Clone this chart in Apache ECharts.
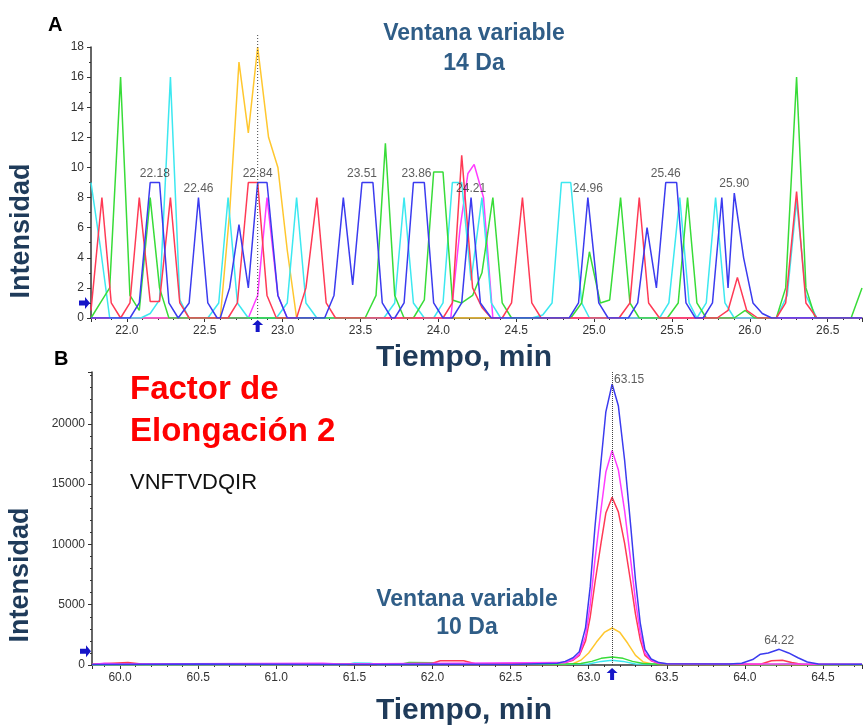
<!DOCTYPE html>
<html>
<head>
<meta charset="utf-8">
<script src="https://cdn.jsdelivr.net/npm/echarts@6/dist/echarts.min.js"></script>
<style>
  html, body { margin: 0; padding: 0; background: #fff; }
  #chart { width: 865px; height: 727px; }
</style>
</head>
<body>
<div id="chart"></div>
<script>
// ---------- Panel A: extracted ion traces, 14 Da window (time min, intensity) ----------
const aYellow = [[21.77,0],[22.60,0],[22.66,7],[22.72,17],[22.78,12.3],[22.84,18],[22.91,12],[22.97,10],[23.03,4.5],[23.09,0],[26.72,0]];
const aMagenta = [[21.77,0],[22.78,0],[22.84,1.5],[22.90,8],[22.97,1.5],[23.03,0],[24.08,0],[24.14,6],[24.19,9.6],[24.23,10.2],[24.29,8],[24.35,0],[26.72,0]];
const aCyan = [[21.77,9],[21.83,4.7],[21.89,0],
  [22.09,0],[22.15,0.3],[22.21,1.2],[22.28,16],[22.34,1.2],[22.40,0],
  [22.52,0],[22.59,1],[22.65,8],[22.71,1],[22.78,0],
  [22.96,0],[23.03,1],[23.09,8],[23.15,1],[23.22,0],
  [23.65,0],[23.72,1],[23.78,8],[23.84,1],[23.91,0],
  [23.97,0],[24.03,1],[24.09,9],[24.15,9],[24.21,2.5],[24.28,8],[24.34,1],[24.40,0],
  [24.60,0],[24.67,0.2],[24.73,1],[24.79,9],[24.85,9],[24.92,1],[24.97,0],
  [25.42,0],[25.48,1],[25.55,8],[25.61,1],[25.66,0],[25.72,1],[25.78,8],[25.84,1],[25.90,0],
  [26.17,0],[26.24,1.5],[26.30,7.8],[26.36,1.5],[26.43,0],[26.72,0]];
const aGreen = [[21.77,0],[21.83,1],[21.89,2],[21.96,16],[22.02,1.5],[22.08,0.5],[22.15,8],[22.21,2],[22.27,0],
  [23.53,0],[23.60,1.5],[23.66,11.6],[23.72,1.5],[23.78,0],
  [23.84,0],[23.91,1.2],[23.97,9.7],[24.03,9.7],[24.09,1.2],[24.15,1],[24.22,1.5],[24.28,3],[24.35,8],[24.41,1],[24.47,0],
  [24.85,0],[24.92,1],[24.97,4.4],[25.04,1],[25.10,1.2],[25.17,8],[25.23,1],[25.29,0],
  [25.47,0],[25.54,1],[25.60,8],[25.66,1],[25.72,0],
  [25.90,0],[25.97,0.5],[26.03,0],
  [26.17,0],[26.23,2],[26.30,16],[26.36,2],[26.42,0],[26.65,0],[26.72,2]];
const aRed = [[21.77,0.5],[21.84,8],[21.90,1],[21.96,0],[22.02,1],[22.08,8],[22.15,1.1],[22.21,1.1],[22.28,8],[22.34,1],[22.40,0],
  [22.65,0],[22.71,1],[22.78,9],[22.84,9],[22.90,1.5],[22.96,0],
  [23.09,0],[23.15,2],[23.22,8],[23.28,1],[23.34,0],
  [24.03,0],[24.09,1],[24.15,10.8],[24.22,2],[24.28,0.7],[24.34,0],
  [24.41,0],[24.47,1],[24.54,8],[24.60,1],[24.66,0],
  [25.16,0],[25.23,1],[25.29,8],[25.35,1],[25.42,0],
  [25.79,0],[25.86,0.5],[25.92,2.7],[25.98,0.5],[26.05,0],
  [26.17,0],[26.23,1],[26.30,8.4],[26.36,1],[26.43,0],[26.72,0]];
const aBlue = [[21.77,0],[22.02,0],[22.08,1],[22.15,9],[22.21,9],[22.27,1],[22.33,0],
  [22.40,1],[22.46,8],[22.52,1],[22.58,0],
  [22.60,0],[22.66,2],[22.72,6.2],[22.78,2],[22.84,9],[22.90,9],[22.97,1.5],[23.03,0],
  [23.27,0],[23.33,1.5],[23.39,8],[23.45,2.2],[23.51,9],[23.58,9],[23.64,1],[23.70,0],
  [23.72,0],[23.78,1],[23.84,9],[23.91,9],[23.97,1],[24.03,0],
  [24.09,0],[24.15,1],[24.21,8],[24.27,1],[24.34,0],
  [24.84,0],[24.90,1],[24.96,8],[25.03,1],[25.09,0],
  [25.22,0],[25.28,1],[25.34,6],[25.40,2],[25.46,9],[25.53,9],[25.59,1],[25.65,0],
  [25.70,0],[25.76,1],[25.82,8],[25.86,2],[25.90,8.3],[25.96,4],[26.02,1],[26.08,0.3],[26.14,0],[26.72,0]];
// apex retention times written above peaks
const aPeakLabels = [[22.18,9],[22.46,8],[22.84,9],[23.51,9],[23.86,9],[24.21,8],[24.96,8],[25.46,9],[25.90,8.3]];

// ---------- Panel B: Factor de Elongación 2, VNFTVDQIR, 10 Da window ----------
const bYellow = [[59.82,20],[62.85,40],[62.90,100],[62.95,400],[63.00,1000],[63.05,1900],[63.10,2700],[63.15,3070],[63.20,2700],[63.25,1800],[63.30,800],[63.35,250],[63.40,100],[63.45,40],[64.75,20]];
const bCyan = [[59.82,30],[61.45,40],[61.50,160],[61.60,150],[61.65,40],[63.00,80],[63.08,300],[63.15,400],[63.22,300],[63.30,80],[64.20,40],[64.30,150],[64.40,40],[64.75,30]];
const bGreen = [[59.82,40],[60.60,60],[60.70,100],[60.80,60],[61.80,60],[61.85,200],[62.00,180],[62.05,60],[62.85,80],[62.95,120],[63.02,300],[63.08,550],[63.15,660],[63.22,550],[63.28,300],[63.35,120],[63.45,60],[64.75,40]];
const bMagenta = [[59.82,50],[59.90,150],[60.00,80],[61.30,150],[61.40,80],[62.85,200],[62.90,450],[62.94,900],[62.98,2400],[63.01,5000],[63.04,8700],[63.08,13000],[63.11,16000],[63.15,17800],[63.19,16200],[63.23,12800],[63.27,8600],[63.30,5300],[63.33,2700],[63.36,1000],[63.40,400],[63.45,150],[63.50,100],[64.75,60]];
const bRed = [[59.82,60],[60.05,200],[60.15,60],[61.60,60],[62.00,150],[62.05,350],[62.20,350],[62.28,80],[62.85,200],[62.90,400],[62.94,800],[62.98,2000],[63.01,4000],[63.04,6800],[63.08,10200],[63.11,12600],[63.15,13900],[63.19,12700],[63.23,10100],[63.27,6800],[63.30,4200],[63.33,2100],[63.36,800],[63.40,350],[63.45,120],[64.10,60],[64.17,350],[64.24,400],[64.30,200],[64.36,60],[64.75,50]];
const bBlue = [[59.82,50],[60.50,80],[61.00,60],[61.50,40],[62.00,60],[62.50,50],[62.80,150],[62.85,300],[62.90,600],[62.94,1100],[62.98,3100],[63.01,6500],[63.04,11400],[63.08,17000],[63.11,21000],[63.15,23300],[63.19,21500],[63.23,17000],[63.27,11400],[63.30,7000],[63.33,3500],[63.36,1300],[63.40,500],[63.45,200],[63.50,100],[63.90,80],[63.98,150],[64.05,450],[64.10,900],[64.15,1000],[64.22,1300],[64.28,1000],[64.34,600],[64.40,250],[64.47,80],[64.75,60]];
const bPeakLabels = [[63.15,23300],[64.22,1300]];

// cursor times and arrow levels
const cursorA = 22.84, cursorB = 63.15;
const arrowLevelA = 1, arrowLevelB = 1150;

const COLORS = { yellow:'#ffc72e', magenta:'#ff3cff', cyan:'#3ce8f0', green:'#38dc38', red:'#ff3a55', blue:'#3b3bef' };
const tickFont = '"Liberation Sans", Arial, sans-serif';

function trace(data, color, idx) {
  return { type:'line', data, xAxisIndex:idx, yAxisIndex:idx, symbol:'none', showSymbol:false,
    lineStyle:{ color, width:1.5 }, itemStyle:{ color }, animation:false, silent:true };
}
function peakLabels(data, idx, pos) {
  return { type:'scatter', data, xAxisIndex:idx, yAxisIndex:idx, symbolSize:0, silent:true, animation:false, z:10,
    label:{ show:true, position:pos.position, distance:pos.distance, offset:pos.offset || [0,0],
      formatter: p => p.value[0].toFixed(2), color:'#333', fontSize:12, fontFamily:tickFont } };
}
function xAxisCfg(idx, min, max) {
  return { type:'value', gridIndex:idx, min, max, splitNumber:10,
    axisLine:{ show:true, onZero:false, lineStyle:{ color:'#333', width:1.5 } },
    axisTick:{ show:true, length:4, lineStyle:{ color:'#333' } },
    minorTick:{ show:true, splitNumber:5, length:2, lineStyle:{ color:'#333' } },
    splitLine:{ show:false },
    axisLabel:{ color:'#333', fontSize:12, fontFamily:tickFont, margin:7,
      formatter: v => (Math.abs(v*2 - Math.round(v*2)) < 1e-6 ? v.toFixed(1) : '') } };
}
function yAxisCfg(idx, max, interval, minorSplit) {
  return { type:'value', gridIndex:idx, min:0, max, interval,
    axisLine:{ show:true, lineStyle:{ color:'#333', width:1.5 } },
    axisTick:{ show:true, length:4, lineStyle:{ color:'#333' } },
    minorTick:{ show:true, splitNumber:minorSplit, length:2, lineStyle:{ color:'#333' } },
    splitLine:{ show:false },
    axisLabel:{ color:'#333', fontSize:12, fontFamily:tickFont, margin:7,
      formatter: v => (v % interval === 0 ? String(v) : '') } };
}

const chart = echarts.init(document.getElementById('chart'), null, { renderer:'canvas' });
chart.setOption({
  animation:false,
  backgroundColor:'#fff',
  grid:[
    { left:91, top:47, width:774, height:271 },
    { left:92, top:372, width:773, height:293 }
  ],
  xAxis:[ xAxisCfg(0, 21.77, 26.72), xAxisCfg(1, 59.82, 64.75) ],
  yAxis:[ yAxisCfg(0, 18, 2, 2), yAxisCfg(1, 24300, 5000, 5) ],
  series:[
    trace(aYellow, COLORS.yellow, 0),
    trace(aMagenta, COLORS.magenta, 0),
    trace(aCyan, COLORS.cyan, 0),
    trace(aGreen, COLORS.green, 0),
    trace(aRed, COLORS.red, 0),
    trace(aBlue, COLORS.blue, 0),
    peakLabels(aPeakLabels, 0, { position:'top', distance:3 }),
    trace(bYellow, COLORS.yellow, 1),
    trace(bCyan, COLORS.cyan, 1),
    trace(bGreen, COLORS.green, 1),
    trace(bRed, COLORS.red, 1),
    trace(bMagenta, COLORS.magenta, 1),
    Object.assign(trace(bBlue, COLORS.blue, 1), {
      markLine:{ silent:true, symbol:['none','none'], label:{ show:false }, animation:false,
        lineStyle:{ type:'dotted', color:'#444', width:1 }, data:[{ xAxis:cursorB }] } }),
    peakLabels([bPeakLabels[0]], 1, { position:'right', distance:2, offset:[0,-4] }),
    peakLabels([bPeakLabels[1]], 1, { position:'top', distance:3 })
  ]
});

// ---------- annotations ----------
const titleBlue = '#2f5d87', axisNavy = '#1f3b5a';
const boldFont = (s) => 'bold ' + s + 'px "Liberation Sans", Arial, sans-serif';
function txt(text, x, y, font, fill, align, rotation) {
  return { type:'text', x, y, rotation: rotation || 0, z:20, silent:true,
    style:{ text, font, fill, align: align || 'center', verticalAlign:'middle' } };
}
function rightArrow(tipX, cy) {
  return { type:'polygon', z:20, silent:true, shape:{ points:[[tipX-11,cy-2.5],[tipX-5,cy-2.5],[tipX-5,cy-6],[tipX,cy],[tipX-5,cy+6],[tipX-5,cy+2.5],[tipX-11,cy+2.5]] },
    style:{ fill:'#1515c8' } };
}
function upArrow(cx, tipY) {
  return { type:'polygon', z:20, silent:true, shape:{ points:[[cx-2,tipY+12],[cx-2,tipY+5],[cx-5.5,tipY+5],[cx,tipY],[cx+5.5,tipY+5],[cx+2,tipY+5],[cx+2,tipY+12]] },
    style:{ fill:'#1515c8' } };
}

const pA = chart.convertToPixel({ gridIndex:0 }, [cursorA, arrowLevelA]);
const pA0 = chart.convertToPixel({ gridIndex:0 }, [21.77, 0]);
const pB = chart.convertToPixel({ gridIndex:1 }, [cursorB, arrowLevelB]);
const pB0 = chart.convertToPixel({ gridIndex:1 }, [59.82, 0]);

chart.setOption({ graphic:[
  // cursor line in panel A
  { type:'line', z:5, silent:true, shape:{ x1:pA[0], y1:35, x2:pA[0], y2:pA0[1] },
    style:{ stroke:'#444', lineWidth:1, lineDash:[1,2] } },
  rightArrow(pA0[0]-1, pA[1]),
  upArrow(pA[0], pA0[1]+2),
  rightArrow(pB0[0]-1, pB[1]),
  upArrow(pB[0], pB0[1]+3),

  txt('A', 48, 25, boldFont(20), '#000', 'left'),
  txt('Ventana variable', 474, 34, boldFont(23), titleBlue),
  txt('14 Da', 474, 64, boldFont(23), titleBlue),
  txt('Intensidad', 22, 231, boldFont(27), axisNavy, 'center', Math.PI/2),
  txt('Tiempo, min', 464, 358, boldFont(30), axisNavy),

  txt('B', 54, 359, boldFont(20), '#000', 'left'),
  txt('Factor de', 130, 390, boldFont(33), '#ff0000', 'left'),
  txt('Elongación 2', 130, 432, boldFont(33), '#ff0000', 'left'),
  txt('VNFTVDQIR', 130, 483, '22px "Liberation Sans", Arial, sans-serif', '#111', 'left'),
  txt('Ventana variable', 467, 600, boldFont(23), titleBlue),
  txt('10 Da', 467, 628, boldFont(23), titleBlue),
  txt('Intensidad', 21, 575, boldFont(27), axisNavy, 'center', Math.PI/2),
  txt('Tiempo, min', 464, 711, boldFont(30), axisNavy)
]});
</script>
</body>
</html>
